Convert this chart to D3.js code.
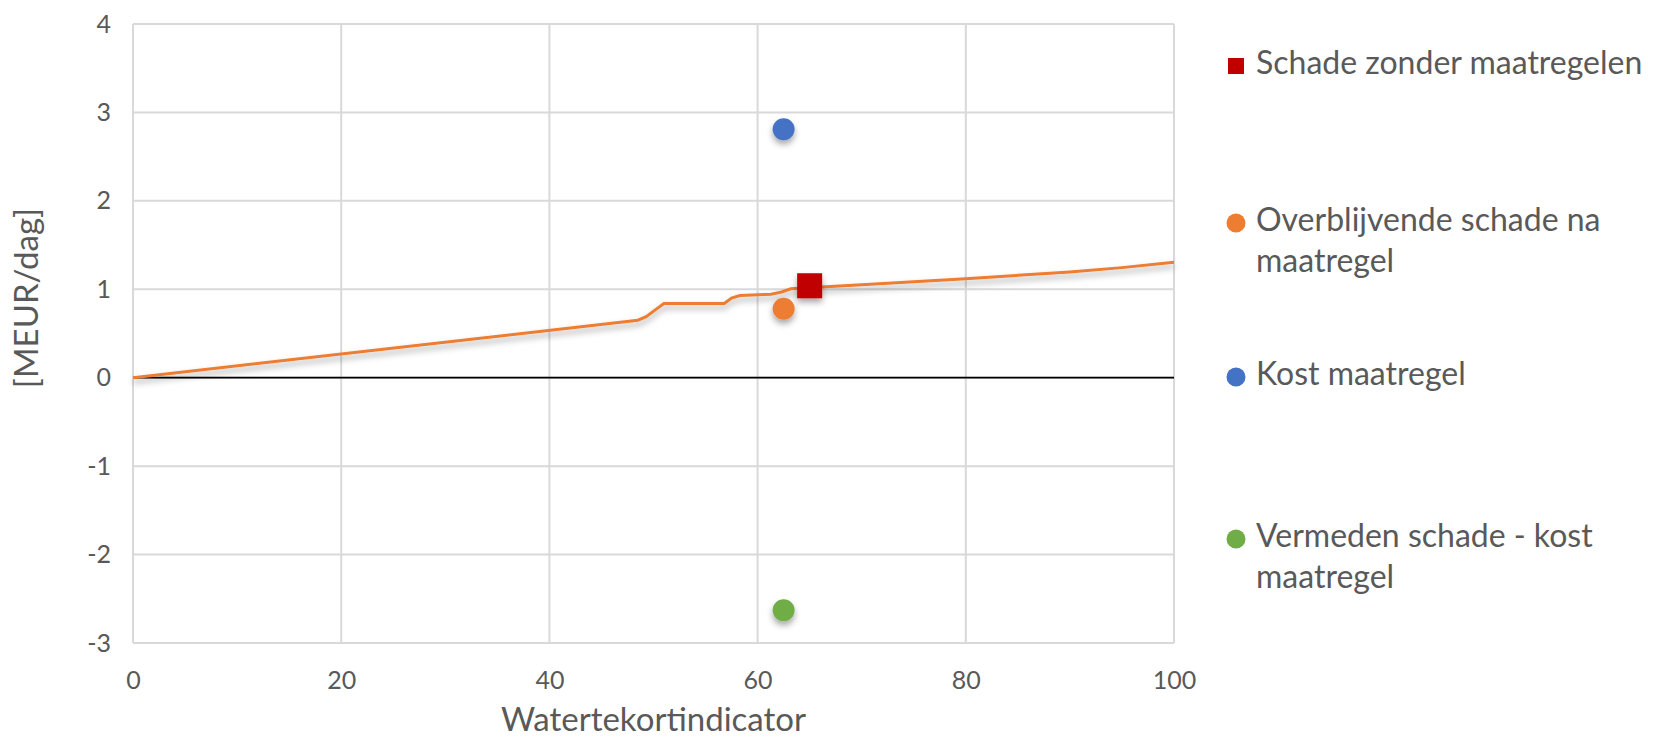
<!DOCTYPE html>
<html>
<head>
<meta charset="utf-8">
<script src="https://cdn.jsdelivr.net/npm/d3@7"></script>
<style>
  html, body { margin: 0; padding: 0; background: #ffffff; }
  svg { display: block; font-family: Lato, "Open Sans", sans-serif; }
</style>
</head>
<body>
<svg id="chart" width="1656" height="740"></svg>
<script>
// Damage curve: damage without measures vs. water shortage indicator
const curveX = [0, 48.5, 49.3, 50.2, 51, 56.8, 57.5, 58.3, 61.3, 62.3, 63.2, 70, 80, 90, 95, 100];
const curveY = [0, 0.65, 0.69, 0.77, 0.84, 0.84, 0.90, 0.93, 0.945, 0.97, 1.005, 1.05, 1.12, 1.195, 1.245, 1.305];

// Single scenario points
const seriesNames = ["Schade zonder maatregelen", "Overblijvende schade na maatregel", "Kost maatregel", "Vermeden schade - kost maatregel"];
const pointX = [65, 62.5, 62.5, 62.5];
const pointY = [1.04, 0.78, 2.81, -2.63];

// Axis ticks
const xTicks = [0, 20, 40, 60, 80, 100];
const yTicks = [-3, -2, -1, 0, 1, 2, 3, 4];

const xTitle = "Watertekortindicator";
const yTitle = "[MEUR/dag]";

const colors = ["#c00000", "#ed7d31", "#4472c4", "#70ad47"];
const shapes = ["square", "circle", "circle", "circle"];
const legendLines = [["Schade zonder maatregelen"], ["Overblijvende schade na", "maatregel"], ["Kost maatregel"], ["Vermeden schade - kost", "maatregel"]];

const svg = d3.select("#chart");
const plot = { left: 133, right: 1174, top: 24, bottom: 643 };

const x = d3.scaleLinear().domain([0, 100]).range([plot.left, plot.right]);
const y = d3.scaleLinear().domain([-3, 4]).range([plot.bottom, plot.top]);

// Plain hyphen-minus for negative tick labels
const fmt = d => String(d);

// Soft shadow used under the curve and markers
const defs = svg.append("defs");
const f = defs.append("filter").attr("id", "shadow")
  .attr("x", "-20%").attr("y", "-50%").attr("width", "140%").attr("height", "200%");
f.append("feDropShadow").attr("dx", 0).attr("dy", 4).attr("stdDeviation", 3)
  .attr("flood-color", "#000").attr("flood-opacity", 0.35);

// Gridlines
svg.append("g").selectAll("line").data(xTicks).join("line")
  .attr("x1", d => x(d)).attr("x2", d => x(d))
  .attr("y1", plot.top).attr("y2", plot.bottom)
  .attr("stroke", "#d9d9d9").attr("stroke-width", 2);
svg.append("g").selectAll("line").data(yTicks).join("line")
  .attr("x1", plot.left).attr("x2", plot.right)
  .attr("y1", d => y(d)).attr("y2", d => y(d))
  .attr("stroke", "#d9d9d9").attr("stroke-width", 2);

// Axes (labels only; lines come from the grid)
const xAxis = svg.append("g").attr("transform", `translate(0,${plot.bottom + 25})`)
  .call(d3.axisBottom(x).tickValues(xTicks).tickSize(0).tickFormat(fmt));
xAxis.select(".domain").remove();
xAxis.selectAll("text").attr("fill", "#595959").attr("font-size", 25).attr("dy", "0.71em")
  .style("font-family", "Lato, 'Open Sans', sans-serif");

const yAxis = svg.append("g").attr("transform", `translate(${plot.left - 19},0)`)
  .call(d3.axisLeft(y).tickValues(yTicks).tickSize(0).tickFormat(fmt));
yAxis.select(".domain").remove();
yAxis.selectAll("text").attr("fill", "#595959").attr("font-size", 25)
  .style("font-family", "Lato, 'Open Sans', sans-serif");

// Zero line
svg.append("line")
  .attr("x1", plot.left).attr("x2", plot.right)
  .attr("y1", y(0)).attr("y2", y(0))
  .attr("stroke", "#000").attr("stroke-width", 1.8);

// Damage curve
const line = d3.line().x(d => x(d[0])).y(d => y(d[1]));
svg.append("path")
  .datum(d3.zip(curveX, curveY))
  .attr("d", line)
  .attr("fill", "none")
  .attr("stroke", "#ed7d31")
  .attr("stroke-width", 3)
  .attr("filter", "url(#shadow)");

// Scenario markers
const pts = d3.range(seriesNames.length).map(i => ({ x: pointX[i], y: pointY[i], c: colors[i], s: shapes[i] }));
const mk = svg.append("g").attr("filter", "url(#shadow)");
pts.forEach(p => {
  if (p.s === "square") {
    mk.append("rect")
      .attr("x", x(p.x) - 12.5).attr("y", y(p.y) - 12.5)
      .attr("width", 25).attr("height", 25).attr("fill", p.c);
  } else {
    mk.append("circle")
      .attr("cx", x(p.x)).attr("cy", y(p.y)).attr("r", 11).attr("fill", p.c);
  }
});

// Axis titles
svg.append("text")
  .attr("x", (plot.left + plot.right) / 2).attr("y", 731)
  .attr("text-anchor", "middle")
  .attr("fill", "#595959").attr("font-size", 33).text(xTitle);

svg.append("text")
  .attr("transform", `translate(30,${298}) rotate(-90)`)
  .attr("text-anchor", "middle").attr("dominant-baseline", "middle")
  .attr("fill", "#595959").attr("font-size", 33).text(yTitle);

// Legend
const legendY = [66, 243.5, 377, 559.5];
const lineGap = 41;
const lg = svg.append("g");
legendLines.forEach((lines, i) => {
  const cy = legendY[i];
  const firstY = cy - (lines.length - 1) * lineGap / 2;
  if (shapes[i] === "square") {
    lg.append("rect").attr("x", 1236 - 8).attr("y", firstY - 8)
      .attr("width", 16).attr("height", 16).attr("fill", colors[i]);
  } else {
    lg.append("circle").attr("cx", 1236).attr("cy", firstY).attr("r", 9.5).attr("fill", colors[i]);
  }
  lines.forEach((t, j) => {
    lg.append("text")
      .attr("x", 1256).attr("y", firstY + j * lineGap)
      .attr("dominant-baseline", "middle")
      .attr("fill", "#595959").attr("font-size", 32).text(t);
  });
});
</script>
</body>
</html>
